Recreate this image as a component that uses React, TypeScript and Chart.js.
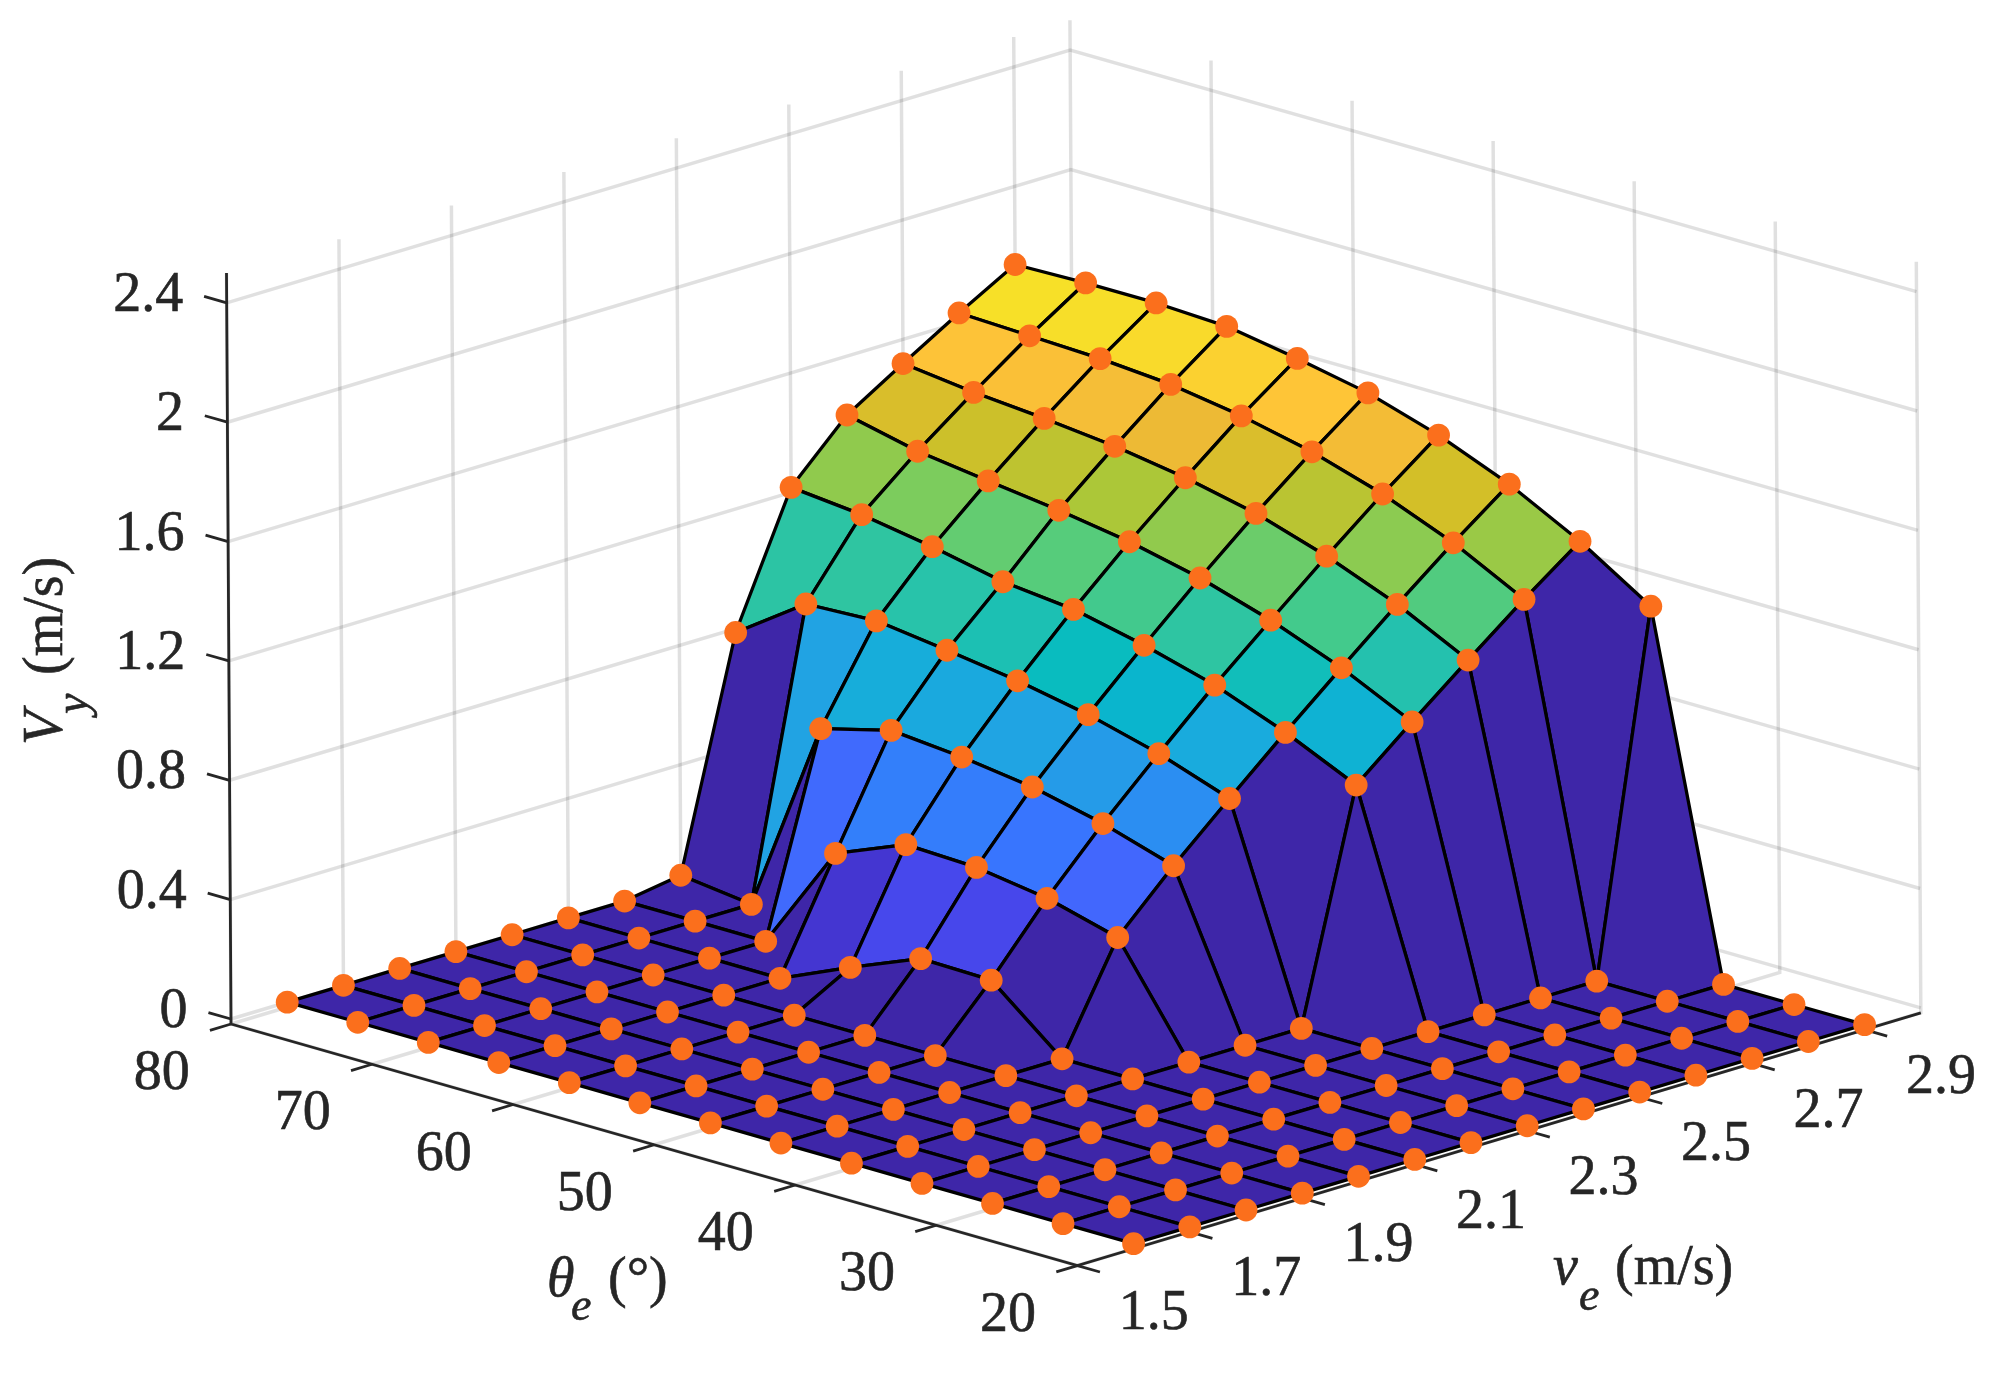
import React, { useEffect, useRef } from "react";
import { Chart, registerables } from "chart.js";

Chart.register(...registerables);

// ---------- data ----------
const thetaGrid = [80, 75, 70, 65, 60, 55, 50, 45, 40, 35, 30, 25, 20];
const veGrid = [1.6, 1.7, 1.8, 1.9, 2.0, 2.1, 2.2, 2.3, 2.4, 2.5, 2.6, 2.7, 2.8, 2.9];

const vyTheta80 = [0, 0, 0, 0, 0, 0, 0, 0.03, 0.787, 1.217, 1.403, 1.519, 1.632, 1.738];
const vyTheta75 = [0, 0, 0, 0, 0, 0, 0, 0, 0.95, 1.193, 1.349, 1.49, 1.623, 1.744];
const vyTheta70 = [0, 0, 0, 0, 0, 0, 0, 0.656, 0.961, 1.153, 1.317, 1.47, 1.614, 1.744];
const vyTheta65 = [0, 0, 0, 0, 0, 0, 0.362, 0.718, 0.93, 1.103, 1.286, 1.444, 1.595, 1.733];
const vyTheta60 = [0, 0, 0, 0, 0, 0.104, 0.459, 0.696, 0.895, 1.078, 1.248, 1.406, 1.557, 1.693];
const vyTheta55 = [0, 0, 0, 0, 0, 0.201, 0.45, 0.663, 0.849, 1.025, 1.194, 1.354, 1.504, 1.645];
const vyTheta50 = [0, 0, 0, 0, 0, 0.196, 0.414, 0.608, 0.786, 0.959, 1.12, 1.278, 1.43, 1.571];
const vyTheta45 = [0, 0, 0, 0, 0, 0, 0.35, 0.534, 0.703, 0.868, 1.028, 1.184, 1.334, 1.474];
const vyTheta40 = [0, 0, 0, 0, 0, 0, 0, 0, 0, 0.759, 0.914, 1.065, 1.212, 1.35];
const vyTheta35 = [0, 0, 0, 0, 0, 0, 0, 0, 0, 0, 0, 0, 0, 1.2];
const vyTheta30 = [0, 0, 0, 0, 0, 0, 0, 0, 0, 0, 0, 0, 0, 0];
const vyTheta25 = [0, 0, 0, 0, 0, 0, 0, 0, 0, 0, 0, 0, 0, 0];
const vyTheta20 = [0, 0, 0, 0, 0, 0, 0, 0, 0, 0, 0, 0, 0, 0];
const vySurface = [
  vyTheta80, vyTheta75, vyTheta70, vyTheta65, vyTheta60, vyTheta55, vyTheta50,
  vyTheta45, vyTheta40, vyTheta35, vyTheta30, vyTheta25, vyTheta20,
];

const zTicks = [0, 0.4, 0.8, 1.2, 1.6, 2, 2.4];
const thetaTicks = [20, 30, 40, 50, 60, 70, 80];
const veTicks = [1.5, 1.7, 1.9, 2.1, 2.3, 2.5, 2.7, 2.9];

// parula colormap
const parula: number[][] = [
  [0.2422, 0.1504, 0.6603], [0.2647, 0.1978, 0.7952], [0.2783, 0.2559, 0.8991], [0.281, 0.3228, 0.9579],
  [0.2699, 0.3892, 0.9906], [0.2206, 0.4603, 0.9973], [0.1786, 0.5289, 0.9682], [0.154, 0.5902, 0.9218],
  [0.1248, 0.6459, 0.8883], [0.0689, 0.6948, 0.8394], [0.0067, 0.7312, 0.766], [0.1408, 0.7584, 0.6842],
  [0.2161, 0.7843, 0.5923], [0.3406, 0.8008, 0.4789], [0.5044, 0.7993, 0.348], [0.6720, 0.7793, 0.2227],
  [0.8203, 0.7498, 0.1535], [0.9393, 0.7288, 0.21], [0.997, 0.7659, 0.2199], [0.9786, 0.8386, 0.1766],
  [0.9597, 0.9135, 0.1423], [0.9769, 0.9839, 0.0805],
];

// ---------- view (orthographic MATLAB-like camera, in canvas units) ----------
const W = 1989;
const H = 1376;
const FLOOR = -0.0167;
const Z_TOP = 2.5;
const THETA_MIN = 20;
const THETA_MAX = 80;
const VE_MIN = 1.5;
const VE_MAX = 3.0;

function project(theta: number, ve: number, z: number) {
  const dt = THETA_MAX - theta;
  const dv = ve - VE_MIN;
  return {
    x: 231 + dt * 14.106 + dv * 562.3 - 1.8 * z,
    y: 1019 + dt * 4.026 - dv * 168.5 - 298.4 * z,
  };
}

function colorOf(z: number, zMax: number) {
  const t = Math.max(0, Math.min(1, z / zMax)) * (parula.length - 1);
  const i = Math.min(parula.length - 2, Math.floor(t));
  const f = t - i;
  const c = parula[i].map((v, k) => Math.round(255 * (v + (parula[i + 1][k] - v) * f)));
  return `rgb(${c[0]},${c[1]},${c[2]})`;
}

const GRID = "rgba(0,0,0,0.12)";
const AXIS = "#262626";
const FONT = '"Liberation Serif"';
const FS = 56;
const SUB = 46;

function polyline(pts: { x: number; y: number }[], color: string, width: number, order: number) {
  return {
    type: "scatter",
    data: pts,
    showLine: true,
    borderColor: color,
    borderWidth: width,
    pointRadius: 0,
    pointHoverRadius: 0,
    tension: 0,
    fill: false,
    clip: false,
    order,
  };
}

function buildDatasets() {
  const ds: any[] = [];
  // grid on floor and walls
  const GO = 100000;
  for (const z of zTicks) {
    ds.push(polyline([project(THETA_MAX, VE_MIN, z), project(THETA_MAX, VE_MAX, z), project(THETA_MIN, VE_MAX, z)], GRID, 3.5, GO));
  }
  for (const v of veTicks) {
    ds.push(polyline([project(THETA_MAX, v, Z_TOP), project(THETA_MAX, v, FLOOR), project(THETA_MIN, v, FLOOR)], GRID, 3.5, GO));
  }
  for (const t of thetaTicks) {
    ds.push(polyline([project(t, VE_MAX, Z_TOP), project(t, VE_MAX, FLOOR), project(t, VE_MIN, FLOOR)], GRID, 3.5, GO));
  }
  // axes and ticks
  const AO = 90000;
  ds.push(polyline([project(THETA_MAX, VE_MIN, Z_TOP), project(THETA_MAX, VE_MIN, FLOOR), project(THETA_MIN, VE_MIN, FLOOR), project(THETA_MIN, VE_MAX, FLOOR)], AXIS, 2.8, AO));
  for (const z of zTicks) {
    ds.push(polyline([project(THETA_MAX, VE_MIN, z), project(THETA_MAX + 1.6, VE_MIN, z)], AXIS, 2.8, AO));
  }
  for (const t of thetaTicks) {
    ds.push(polyline([project(t, VE_MIN, FLOOR), project(t, VE_MIN - 0.0375, FLOOR)], AXIS, 2.8, AO));
  }
  for (const v of veTicks) {
    ds.push(polyline([project(THETA_MIN, v, FLOOR), project(THETA_MIN - 1.6, v, FLOOR)], AXIS, 2.8, AO));
  }
  // surface faces, back to front
  const zMax = Math.max(...vySurface.flat());
  let order = 50000;
  for (let a = 0; a < thetaGrid.length - 1; a++) {
    for (let b = veGrid.length - 2; b >= 0; b--) {
      const corners = [
        project(thetaGrid[a], veGrid[b], vySurface[a][b]),
        project(thetaGrid[a], veGrid[b + 1], vySurface[a][b + 1]),
        project(thetaGrid[a + 1], veGrid[b + 1], vySurface[a + 1][b + 1]),
        project(thetaGrid[a + 1], veGrid[b], vySurface[a + 1][b]),
      ];
      ds.push({
        ...polyline([...corners, corners[0]], "#000000", 3.3, order--),
        faceColor: colorOf(vySurface[a + 1][b], zMax),
        borderJoinStyle: "round",
      });
    }
  }
  // markers
  const pts: { x: number; y: number }[] = [];
  thetaGrid.forEach((t, a) => veGrid.forEach((v, b) => pts.push(project(t, v, vySurface[a][b]))));
  ds.push({
    type: "scatter",
    data: pts,
    showLine: false,
    pointRadius: 11.4,
    pointHoverRadius: 11.4,
    pointBorderWidth: 0,
    pointBackgroundColor: "#FB6F1C",
    clip: false,
    order: 0,
  });
  return ds;
}

const facePlugin = {
  id: "faceFill",
  beforeDatasetDraw(chart: any, args: any) {
    const ds = chart.data.datasets[args.index];
    if (!ds.faceColor) return;
    const pts = args.meta.data;
    const ctx = chart.ctx;
    ctx.save();
    ctx.beginPath();
    pts.forEach((p: any, i: number) => (i ? ctx.lineTo(p.x, p.y) : ctx.moveTo(p.x, p.y)));
    ctx.closePath();
    ctx.fillStyle = ds.faceColor;
    ctx.fill();
    ctx.restore();
  },
};

const labelPlugin = {
  id: "axisText",
  afterDatasetsDraw(chart: any) {
    const { ctx, scales } = chart;
    const px = (p: { x: number; y: number }) => ({ x: scales.x.getPixelForValue(p.x), y: scales.y.getPixelForValue(p.y) });
    const put = (text: string, x: number, y: number) => {
      ctx.fillText(text, x, y);
      ctx.strokeText(text, x, y);
    };
    ctx.save();
    ctx.fillStyle = AXIS;
    ctx.strokeStyle = AXIS;
    ctx.lineWidth = 0.6;
    ctx.textBaseline = "middle";
    ctx.font = `${FS}px ${FONT}`;
    // tick labels
    ctx.textAlign = "right";
    for (const z of zTicks) {
      const p = px(project(THETA_MAX, VE_MIN, z));
      put(String(z), p.x - 43.5, p.y - 6.5);
    }
    ctx.textAlign = "center";
    for (const t of thetaTicks) {
      const p = px(project(t, VE_MIN, FLOOR));
      put(String(t), p.x - 69.4, p.y + 50.5);
    }
    for (const v of veTicks) {
      const p = px(project(THETA_MIN, v, FLOOR));
      put(v.toFixed(1), p.x + 76.3, p.y + 48.5);
    }
    // axis titles
    ctx.textBaseline = "alphabetic";
    ctx.textAlign = "left";
    const rich = (segs: [string, string, number, number][]) => {
      for (const [font, text, dx, dy] of segs) {
        ctx.font = font;
        put(text, dx, dy);
      }
    };
    const main = `${FS}px ${FONT}`;
    const ital = `italic ${FS}px ${FONT}`;
    const sub = `italic ${SUB}px ${FONT}`;
    ctx.save();
    ctx.translate(62, 745);
    ctx.rotate(-Math.PI / 2);
    rich([[ital, "V", 0, 0], [sub, "y", 31, 25], [main, "(m/s)", 70, 0]]);
    ctx.restore();
    ctx.save();
    ctx.translate(1553, 1284);
    rich([[ital, "v", 0, 0], [sub, "e", 26, 26], [main, "(m/s)", 62, 0]]);
    ctx.restore();
    ctx.save();
    ctx.translate(547, 1296);
    rich([[ital, "\u03B8", 0, 0], [sub, "e", 24, 24], [main, "(\u00B0)", 61, 0]]);
    ctx.restore();
    ctx.restore();
  },
};

export default function App() {
  const ref = useRef<HTMLCanvasElement>(null);
  useEffect(() => {
    if (!ref.current) return;
    const chart = new Chart(ref.current, {
      type: "scatter",
      data: { datasets: buildDatasets() },
      options: {
        animation: false,
        responsive: false,
        devicePixelRatio: 1,
        layout: { padding: 0, autoPadding: false },
        plugins: { legend: { display: false }, tooltip: { enabled: false } },
        events: [],
        scales: {
          x: { type: "linear", min: 0, max: W, display: false },
          y: { type: "linear", min: 0, max: H, reverse: true, display: false },
        },
      } as any,
      plugins: [facePlugin, labelPlugin],
    } as any);
    return () => chart.destroy();
  }, []);
  return (
    <div style={{ position: "absolute", left: 0, top: 0, width: W, height: H, background: "#fff" }}>
      <canvas ref={ref} width={W} height={H} style={{ display: "block" }} />
    </div>
  );
}
